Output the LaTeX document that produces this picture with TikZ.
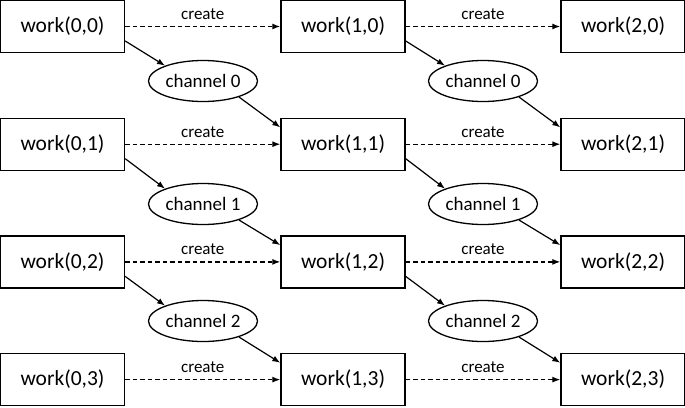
\documentclass[tikz,border=0pt]{standalone}
\usepackage{fontspec}
\setmainfont{Carlito}
\usetikzlibrary{arrows.meta,shapes.geometric}

\begin{document}
\begin{tikzpicture}[x=1pt,y=1pt,
    work/.style={draw,line width=1.4pt,minimum width=124pt,minimum height=52pt,inner sep=0pt,font=\fontsize{21.5}{25}\selectfont},
    chan/.style={draw,ellipse,line width=1.3pt,minimum width=109pt,minimum height=41pt,inner sep=0pt,font=\fontsize{19}{22}\selectfont},
    flow/.style={-{Latex[length=8pt,width=6pt]},line width=1.2pt},
    spawn/.style={flow,dash pattern=on 4.5pt off 3pt},
    lbl/.style={midway,above=3pt,font=\fontsize{17}{19}\selectfont}]
        \useasboundingbox (0,0) rectangle (685,-407);

        \node[work] (w00) at (62.5,-26.5) {work(0,0)};
        \node[work] (w01) at (62.5,-144.2) {work(0,1)};
        \node[work] (w02) at (62.5,-261.9) {work(0,2)};
        \node[work] (w03) at (62.5,-379.6) {work(0,3)};

        \node[work] (w10) at (343,-26.5) {work(1,0)};
        \node[work] (w11) at (343,-144.2) {work(1,1)};
        \node[work] (w12) at (343,-261.9) {work(1,2)};
        \node[work] (w13) at (343,-379.6) {work(1,3)};

        \node[work] (w20) at (623,-26.5) {work(2,0)};
        \node[work] (w21) at (623,-144.2) {work(2,1)};
        \node[work] (w22) at (623,-261.9) {work(2,2)};
        \node[work] (w23) at (623,-379.6) {work(2,3)};

        \node[chan] (ch00) at (203,-81) {channel 0};
        \node[chan] (ch01) at (203,-204) {channel 1};
        \node[chan] (ch02) at (203,-321) {channel 2};
        \node[chan] (ch10) at (483,-81) {channel 0};
        \node[chan] (ch11) at (483,-204) {channel 1};
        \node[chan] (ch12) at (483,-321) {channel 2};

        % create
        \draw[spawn] (w00) -- (w10) node[lbl] {create};
        \draw[spawn] (w01) -- (w11) node[lbl] {create};
        \draw[spawn] (w02) -- (w12) node[lbl] {create};
        \draw[spawn] (w03) -- (w13) node[lbl] {create};
        \draw[spawn] (w10) -- (w20) node[lbl] {create};
        \draw[spawn] (w11) -- (w21) node[lbl] {create};
        \draw[spawn] (w12) -- (w22) node[lbl] {create};
        \draw[spawn] (w13) -- (w23) node[lbl] {create};

        % channels
        \draw[flow] (w00.-13) -- (ch00.158);
        \draw[flow] (ch00.-24) -- (w11.165);
        \draw[flow] (w01.-13) -- (ch01.158);
        \draw[flow] (ch01.-24) -- (w12.165);
        \draw[flow] (w02.-13) -- (ch02.158);
        \draw[flow] (ch02.-24) -- (w13.165);

        \draw[flow] (w10.-13) -- (ch10.158);
        \draw[flow] (ch10.-24) -- (w21.165);
        \draw[flow] (w11.-13) -- (ch11.158);
        \draw[flow] (ch11.-24) -- (w22.165);
        \draw[flow] (w12.-13) -- (ch12.158);
        \draw[flow] (ch12.-24) -- (w23.165);
    \end{tikzpicture}
\end{document}
